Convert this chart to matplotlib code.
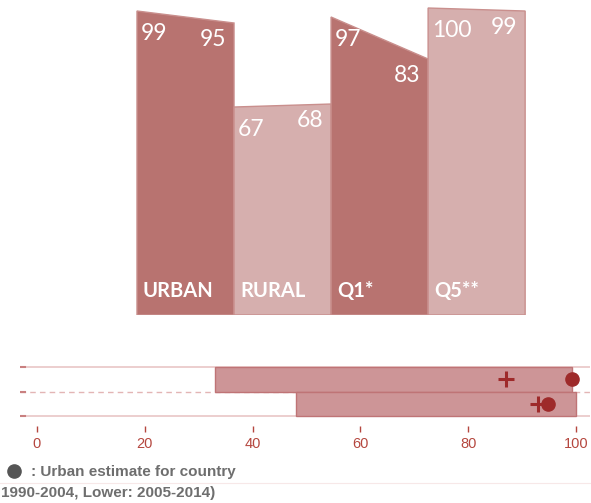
import matplotlib
matplotlib.use("Agg")
import matplotlib.pyplot as plt
from matplotlib.patches import Polygon
from matplotlib.lines import Line2D

# ---- data ----
categories = ["URBAN", "RURAL", "Q1*", "Q5**"]
earlier = [99, 67, 97, 100]   # left edge value of each panel
later = [95, 68, 83, 99]      # right edge value of each panel

range_lo = [33, 48]           # upper row, lower row
range_hi = [99.3, 100]
plus_vals = [87, 93.0]
dot_vals = [99.3, 94.8]
xticks = [0, 20, 40, 60, 80, 100]

dark = "#b87370"
light = "#d6afae"
panel_colors = [dark, light, dark, light]

W, H = 591, 503
fig = plt.figure(figsize=(W / 100, H / 100), dpi=100)

def px_axes(x0, y0, x1, y1):
    return fig.add_axes([x0 / W, 1 - y1 / H, (x1 - x0) / W, (y1 - y0) / H])

# ---- top panel chart ----
ax = px_axes(130, 0, 530, 315)
ymin, ymax = -2.33, 102.67
ax.set_xlim(-0.072, 4.05)
ax.set_ylim(ymin, ymax)
ax.axis("off")

for i, (cat, a, b, c) in enumerate(zip(categories, earlier, later, panel_colors)):
    poly = Polygon([(i, ymin), (i, a), (i + 1, b), (i + 1, ymin)],
                   closed=True, facecolor=c, edgecolor="#c98f8d", lw=1.0)
    ax.add_patch(poly)
    ax.annotate(str(a), (i, a), xytext=(4, -12), textcoords="offset pixels",
                ha="left", va="top", color="white", fontsize=16.5, family="Lato")
    ax.annotate(str(b), (i + 1, b), xytext=(-8, -6), textcoords="offset pixels",
                ha="right", va="top", color="white", fontsize=16.5, family="Lato")
    ax.annotate(cat, (i, ymin), xytext=(6, 18), textcoords="offset pixels",
                ha="left", va="baseline", color="white", fontsize=14.5,
                fontweight="bold", family="Lato")

# ---- bottom range chart ----
bx = px_axes(20, 360, 590, 426)
bx.set_xlim(-3.15, 102.6)
bx.set_ylim(-0.41, 2.29)
for s in bx.spines.values():
    s.set_visible(False)

line_col = "#e9c6c6"
bx.axhline(2, color=line_col, lw=1.2, zorder=1)
bx.axhline(0, color=line_col, lw=1.2, zorder=1)
bx.axhline(1, color="#e3b5b5", lw=1.0, ls=(0, (4, 3)), zorder=1)
for yv in [0, 1, 2]:
    bx.plot([-3.15, -2.2], [yv, yv], color="#c98080", lw=1.5, zorder=2)

rows_y = [1, 0]
for yb, lo, hi, pv, dv in zip(rows_y, range_lo, range_hi, plus_vals, dot_vals):
    bx.barh(yb + 0.5, hi - lo, left=lo, height=1.0, color="#cd9597",
            edgecolor="#bf7476", lw=1.0, zorder=3)
    bx.plot(pv, yb + 0.5, marker="+", ms=11, mew=2.2, color="#9e2a2a", zorder=4)
    bx.plot(dv, yb + 0.5, marker="o", ms=9.5, color="#9e2a2a", zorder=5)

bx.set_yticks([])
bx.set_xticks(xticks)
bx.set_xticklabels([str(t) for t in xticks])
bx.tick_params(axis="x", direction="out", length=4, width=1, color="#b5473f",
               labelcolor="#b5473f", labelsize=10.5, pad=4)
for lab in bx.get_xticklabels():
    lab.set_family("Liberation Sans")

# ---- legend text ----
fig.add_artist(Line2D([14 / W], [1 - 471 / H], transform=fig.transFigure,
                      marker="o", ms=9.5, color="#555555", lw=0))
fig.text(31 / W, 1 - 472 / H, ": Urban estimate for country", ha="left",
         va="center", fontsize=11, fontweight="bold", color="#6e6e6e",
         family="Liberation Sans")
fig.add_artist(Line2D([0, 1], [1 - 483 / H, 1 - 483 / H],
                      transform=fig.transFigure, color="#f7e8e8", lw=0.8))
fig.text(1 / W, 1 - 493 / H, "1990-2004, Lower: 2005-2014)", ha="left",
         va="center", fontsize=11, fontweight="bold", color="#6e6e6e",
         family="Liberation Sans")

fig.savefig("out.png", dpi=100)
